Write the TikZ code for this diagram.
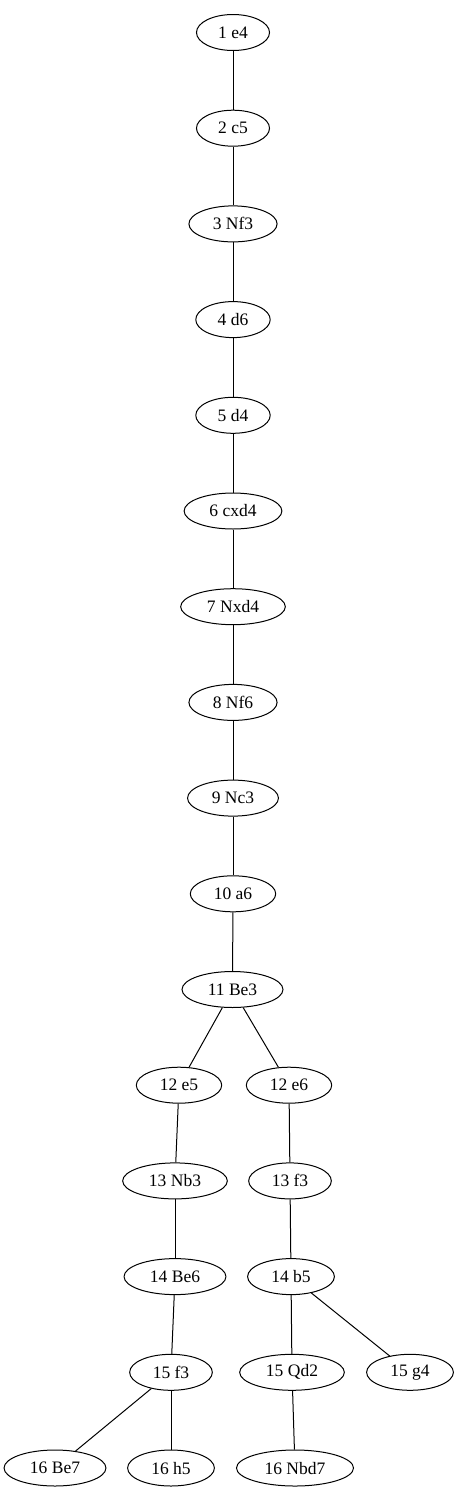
\documentclass[tikz,border=0pt]{standalone}
\usepackage{fontspec}
\setmainfont{Liberation Serif}
\usepackage{tikz}
\usetikzlibrary{shapes.geometric}
\usetikzlibrary{graphs}

\begin{document}
\begin{tikzpicture}[x=1pt,y=-1pt,
	ply/.style={draw,ellipse,black,line width=1pt,inner xsep=11pt,inner ysep=0pt,minimum height=36pt,font=\fontsize{17.5}{20}\selectfont}]
	\useasboundingbox (0,0) rectangle (457,1499);
	
	\node [name=mv1,ply] at (233,32.5) {1 e4};
	\node [name=mv2,ply] at (233,128.2) {2 c5};
	\node [name=mv3,ply] at (233,223.9) {3 Nf3};
	\node [name=mv4,ply] at (233,319.6) {4 d6};
	\node [name=mv5,ply] at (233,415.3) {5 d4};
	\node [name=mv6,ply] at (233,511) {6 cxd4};
	\node [name=mv7,ply] at (233,606.7) {7 Nxd4};
	\node [name=mv8,ply] at (233,702.4) {8 Nf6};
	\node [name=mv9,ply] at (233,798.1) {9 Nc3};
	\node [name=mv10,ply] at (233,893.8) {10 a6};
	\node [name=mv11,ply] at (232.5,989.5) {11 Be3};
	
	\node [name=mv12a,ply] at (179,1085.2) {12 e5};
	\node [name=mv12b,ply] at (289,1085.2) {12 e6};
	
	\node [name=mv13a,ply] at (175,1180.9) {13 Nb3};
	\node [name=mv13b,ply] at (290,1180.9) {13 f3};
	
	\node [name=mv14a,ply] at (175,1276.6) {14 Be6};
	\node [name=mv14b,ply] at (291,1276.6) {14 b5};
	
	\node [name=mv15a,ply] at (171,1372.3) {15 f3};
	\node [name=mv15b,ply] at (292,1372.3) {15 Qd2};
	\node [name=mv15c,ply] at (410,1372.3) {15 g4};
	
	\node [name=mv16a,ply] at (55,1468) {16 Be7};
	\node [name=mv16b,ply] at (171,1468) {16 h5};
	\node [name=mv16c,ply] at (295,1468) {16 Nbd7};
	
	
	\graph [edges={line width=1pt}] {(mv1) -- (mv2) -- (mv3) -- (mv4) -- (mv5) -- (mv6) -- (mv7) -- (mv8) -- (mv9) -- (mv10) -- (mv11)};
	\graph [edges={line width=1pt}] {(mv11) -- {(mv12a),(mv12b)}};
	\graph [edges={line width=1pt}] {(mv12a) -- (mv13a) -- (mv14a) -- (mv15a)};
	\graph [edges={line width=1pt}] {(mv15a) -- {(mv16a),(mv16b)}};
	\graph [edges={line width=1pt}] {(mv12b) -- (mv13b) -- (mv14b)};
	\graph [edges={line width=1pt}] {(mv14b) -- {(mv15b),(mv15c)}};
	\graph [edges={line width=1pt}] {(mv15b) -- (mv16c)};

\end{tikzpicture}
\end{document}
